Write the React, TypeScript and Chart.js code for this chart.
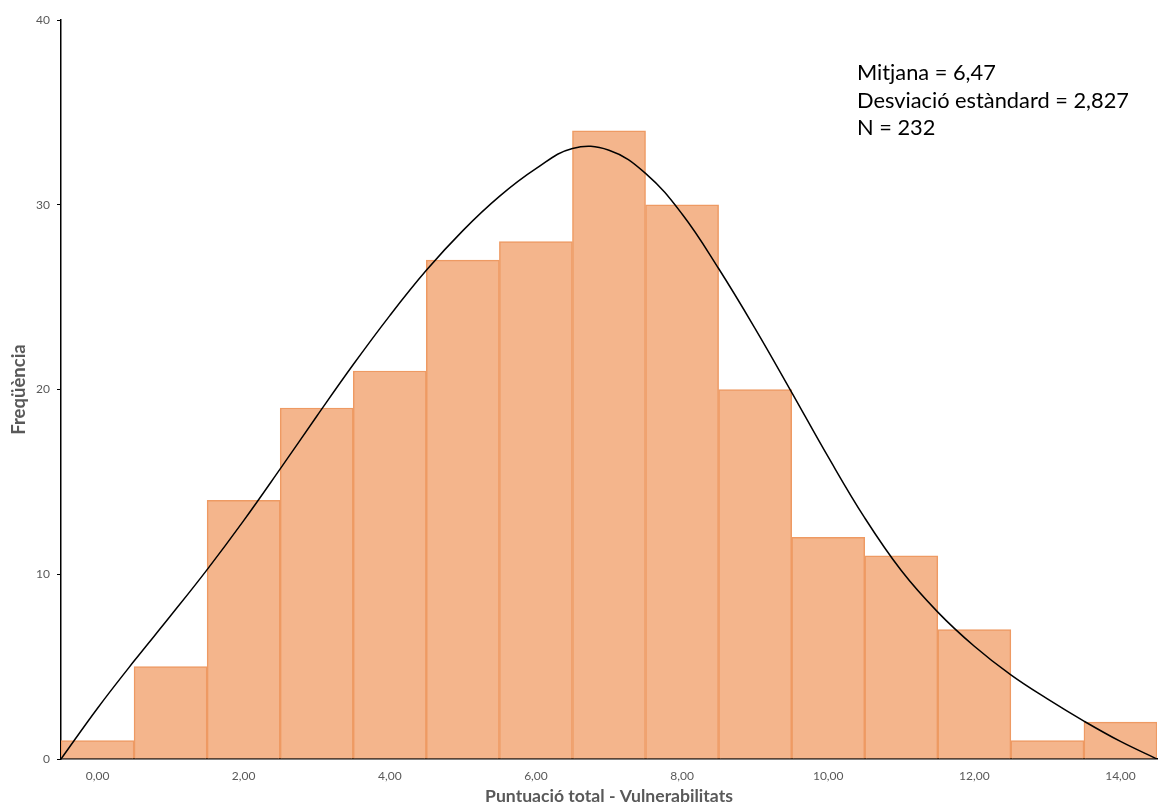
import React, { useEffect, useRef } from 'react';
import { Chart, registerables } from 'chart.js';

Chart.register(...registerables);

// Histogram bins (centres) and frequencies
const binCenters = [0, 1, 2, 3, 4, 5, 6, 7, 8, 9, 10, 11, 12, 13, 14];
const frequencies = [1, 5, 14, 19, 21, 27, 28, 34, 30, 20, 12, 11, 7, 1, 2];

// Normal curve
const curveX = [-0.5, 0, 0.5, 1, 1.5, 2, 2.5, 3, 3.5, 4, 4.5, 5, 5.5, 6, 6.5, 7, 7.5, 8, 8.5, 9, 9.5, 10, 10.5, 11, 11.5, 12, 12.5, 13, 13.5, 14, 14.5];
const curveY = [0, 2.75, 5.3, 7.75, 10.25, 12.9, 15.7, 18.55, 21.35, 24.0, 26.45, 28.6, 30.45, 31.95, 33.05, 32.95, 31.7, 29.5, 26.55, 23.3, 19.85, 16.35, 13.05, 10.2, 7.95, 6.1, 4.55, 3.25, 2.05, 0.95, 0];

const xTickValues = [0, 2, 4, 6, 8, 10, 12, 14];
const yTickValues = [0, 10, 20, 30, 40];

const statsLines = ['Mitjana = 6,47', 'Desviació estàndard = 2,827', 'N = 232'];
const xTitle = 'Puntuació total - Vulnerabilitats';
const yTitle = 'Freqüència';

const FONT = 'Lato';

const statsPlugin = {
  id: 'statsText',
  afterDatasetsDraw(chart: any) {
    const { ctx, chartArea } = chart;
    ctx.save();
    ctx.font = `21.8px ${FONT}`;
    ctx.fillStyle = '#000000';
    ctx.textAlign = 'left';
    ctx.textBaseline = 'middle';
    statsLines.forEach((t, i) => {
      ctx.fillText(t, chartArea.right - 300, chartArea.top + 53 + i * 27.5);
    });
    ctx.restore();
  },
};

export default function App() {
  const canvasRef = useRef<HTMLCanvasElement | null>(null);

  useEffect(() => {
    const canvas = canvasRef.current;
    if (!canvas) return;
    const chart = new Chart(canvas, {
      type: 'bar',
      data: {
        datasets: [
          {
            type: 'line',
            data: curveX.map((x, i) => ({ x, y: curveY[i] })),
            borderColor: '#000000',
            borderWidth: 1.5,
            pointRadius: 0,
            fill: false,
            tension: 0.4,
            order: 0,
          } as any,
          {
            type: 'bar',
            data: binCenters.map((x, i) => ({ x, y: frequencies[i] })),
            backgroundColor: '#F4B58C',
            borderColor: '#EE9A63',
            borderWidth: 1.5,
            barPercentage: 1,
            categoryPercentage: 1,
            grouped: false,
            order: 1,
          } as any,
        ],
      },
      options: {
        responsive: false,
        animation: false,
        layout: { padding: { top: 20, right: 1, left: 0, bottom: 0 } },
        plugins: {
          legend: { display: false },
          tooltip: { enabled: false },
        },
        scales: {
          x: {
            type: 'linear',
            min: -0.5,
            max: 14.5,
            offset: false,
            grid: { display: true, drawOnChartArea: false, drawTicks: false, offset: false },
            border: { display: true, color: '#000000', width: 1.5 },
            afterBuildTicks: (s: any) => {
              s.ticks = xTickValues.map((v) => ({ value: v }));
            },
            ticks: {
              callback: (v: any) => Number(v).toFixed(2).replace('.', ','),
              color: '#595959',
              font: { family: FONT, size: 12 },
              padding: 10,
              maxRotation: 0,
              autoSkip: false,
            },
            title: {
              display: true,
              text: xTitle,
              color: '#595959',
              font: { family: FONT, size: 17.6, weight: 'bold' },
              padding: { top: 0, bottom: 0 },
            },
            afterFit: (s: any) => {
              s.height = 48;
            },
          } as any,
          y: {
            type: 'linear',
            min: 0,
            max: 40,
            afterBuildTicks: (s: any) => {
              s.ticks = yTickValues.map((v) => ({ value: v }));
            },
            grid: { display: true, drawOnChartArea: false, drawTicks: true, tickLength: 4, color: '#000000' },
            border: { display: true, color: '#000000', width: 1.5 },
            ticks: {
              color: '#595959',
              font: { family: FONT, size: 12 },
              padding: 7,
            },
            title: {
              display: true,
              text: yTitle,
              color: '#595959',
              font: { family: FONT, size: 18.5, weight: 'bold' },
              padding: { top: 8, bottom: 0 },
            },
            afterFit: (s: any) => {
              s.width = 61;
            },
          } as any,
        },
      },
      plugins: [statsPlugin],
    });
    return () => chart.destroy();
  }, []);

  return (
    <div style={{ position: 'absolute', left: 0, top: 0, width: 1158, height: 807, background: '#ffffff' }}>
      <canvas ref={canvasRef} width={1158} height={807} style={{ display: 'block' }} />
    </div>
  );
}
